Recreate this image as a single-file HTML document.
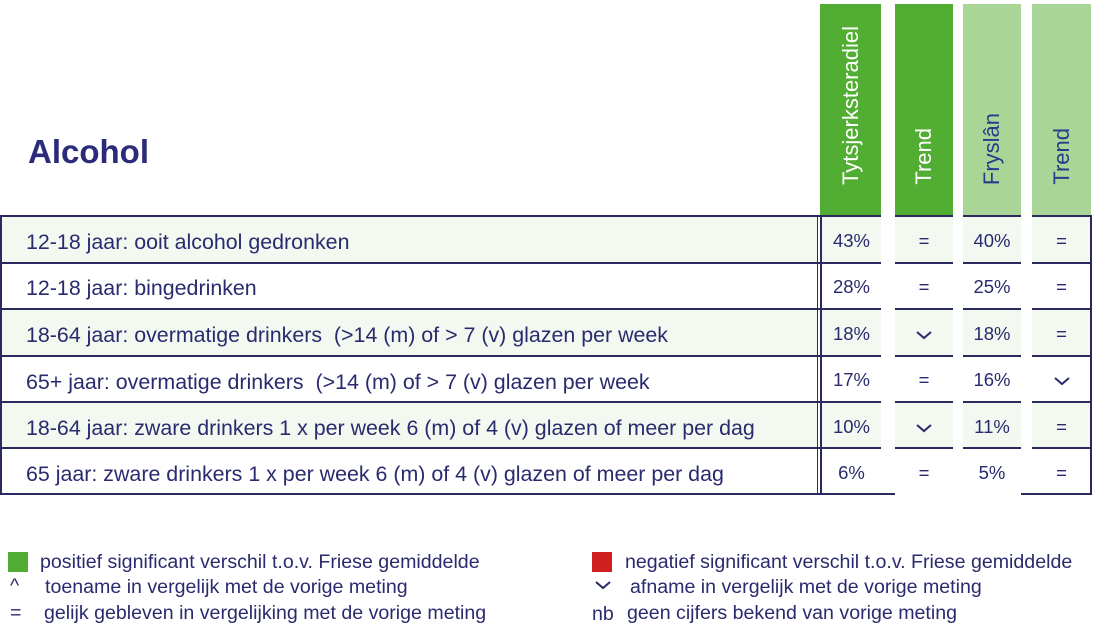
<!DOCTYPE html>
<html><head><meta charset="utf-8"><style>
body{margin:0;width:1095px;height:628px;background:#fff;position:relative;overflow:hidden;font-family:"Liberation Sans",sans-serif;color:#2a2a6e}
.a{position:absolute}
.bar{position:absolute;top:4px;height:211px}
.vt{position:absolute;left:0;right:0;bottom:30px;display:flex;justify-content:center}
.vt span{writing-mode:vertical-rl;transform:rotate(180deg);white-space:nowrap;font-size:22px;line-height:24px}
.row{position:absolute;left:1px;width:817px;height:46px;font-size:21.4px;line-height:52px;box-sizing:border-box;padding-left:25px}
.c{position:absolute;height:46px;font-size:18.5px;line-height:48px;text-align:center}
.h{position:absolute;height:2px;background:#2a2a5e}
.v{position:absolute;width:2px;background:#2a2a5e}
.lg{position:absolute;font-size:19.6px;line-height:22px}
</style></head><body>
<div class="a" style="left:28px;top:133px;font-size:33px;font-weight:bold;color:#2b2b7a">Alcohol</div>

<div class="bar" style="left:820px;width:61px;background:#52ae32"><div class="vt" style="color:#fff"><span>Tytsjerksteradiel</span></div></div>
<div class="bar" style="left:895px;width:58px;background:#52ae32"><div class="vt" style="color:#fff"><span>Trend</span></div></div>
<div class="bar" style="left:963px;width:58px;background:#a9d597"><div class="vt" style="color:#2b3a8a"><span>Fryslân</span></div></div>
<div class="bar" style="left:1032px;width:59px;background:#a9d597"><div class="vt" style="color:#2b3a8a"><span>Trend</span></div></div>

<div class="row" style="top:216px;background:#f3f8f0">12-18 jaar: ooit alcohol gedronken</div>
<div class="row" style="top:262px">12-18 jaar: bingedrinken</div>
<div class="row" style="top:309px;background:#f3f8f0">18-64 jaar: overmatige drinkers &nbsp;(&gt;14 (m) of &gt; 7 (v) glazen per week</div>
<div class="row" style="top:356px">65+ jaar: overmatige drinkers &nbsp;(&gt;14 (m) of &gt; 7 (v) glazen per week</div>
<div class="row" style="top:402px;background:#f3f8f0">18-64 jaar: zware drinkers 1 x per week 6 (m) of 4 (v) glazen of meer per dag</div>
<div class="row" style="top:448px">65 jaar: zware drinkers 1 x per week 6 (m) of 4 (v) glazen of meer per dag</div>

<div class="a" style="left:820px;top:216px;width:61px;height:46px;background:#f3f8f0"></div>
<div class="a" style="left:895px;top:216px;width:58px;height:46px;background:#f3f8f0"></div>
<div class="a" style="left:963px;top:216px;width:58px;height:46px;background:#f3f8f0"></div>
<div class="a" style="left:1032px;top:216px;width:59px;height:46px;background:#f3f8f0"></div>
<div class="a" style="left:820px;top:309px;width:61px;height:46px;background:#f3f8f0"></div>
<div class="a" style="left:895px;top:309px;width:58px;height:46px;background:#f3f8f0"></div>
<div class="a" style="left:963px;top:309px;width:58px;height:46px;background:#f3f8f0"></div>
<div class="a" style="left:1032px;top:309px;width:59px;height:46px;background:#f3f8f0"></div>
<div class="a" style="left:820px;top:402px;width:61px;height:46px;background:#f3f8f0"></div>
<div class="a" style="left:895px;top:402px;width:58px;height:46px;background:#f3f8f0"></div>
<div class="a" style="left:963px;top:402px;width:58px;height:46px;background:#f3f8f0"></div>
<div class="a" style="left:1032px;top:402px;width:59px;height:46px;background:#f3f8f0"></div>

<div class="h" style="left:1px;top:215px;width:880px"></div>
<div class="h" style="left:895px;top:215px;width:58px"></div>
<div class="h" style="left:963px;top:215px;width:58px"></div>
<div class="h" style="left:1032px;top:215px;width:59px"></div>
<div class="h" style="left:1px;top:262px;width:880px"></div>
<div class="h" style="left:895px;top:262px;width:58px"></div>
<div class="h" style="left:963px;top:262px;width:58px"></div>
<div class="h" style="left:1032px;top:262px;width:59px"></div>
<div class="h" style="left:1px;top:308px;width:880px"></div>
<div class="h" style="left:895px;top:308px;width:58px"></div>
<div class="h" style="left:963px;top:308px;width:58px"></div>
<div class="h" style="left:1032px;top:308px;width:59px"></div>
<div class="h" style="left:1px;top:355px;width:880px"></div>
<div class="h" style="left:895px;top:355px;width:58px"></div>
<div class="h" style="left:963px;top:355px;width:58px"></div>
<div class="h" style="left:1032px;top:355px;width:59px"></div>
<div class="h" style="left:1px;top:401px;width:880px"></div>
<div class="h" style="left:895px;top:401px;width:58px"></div>
<div class="h" style="left:963px;top:401px;width:58px"></div>
<div class="h" style="left:1032px;top:401px;width:59px"></div>
<div class="h" style="left:1px;top:447px;width:880px"></div>
<div class="h" style="left:895px;top:447px;width:58px"></div>
<div class="h" style="left:963px;top:447px;width:58px"></div>
<div class="h" style="left:1032px;top:447px;width:59px"></div>
<div class="h" style="left:1px;top:493px;width:894px"></div>
<div class="h" style="left:1021px;top:493px;width:70px"></div>
<div class="v" style="left:0;top:215px;height:280px"></div>
<div class="v" style="left:817px;top:215px;height:280px;width:1px"></div>
<div class="v" style="left:820px;top:215px;height:280px"></div>
<div class="v" style="left:1090px;top:215px;height:280px"></div>

<div class="c" style="left:820px;width:63px;top:217px">43%</div><div class="c" style="left:895px;width:58px;top:217px">=</div><div class="c" style="left:963px;width:58px;top:217px">40%</div><div class="c" style="left:1032px;width:59px;top:217px">=</div>
<div class="c" style="left:820px;width:63px;top:263px">28%</div><div class="c" style="left:895px;width:58px;top:263px">=</div><div class="c" style="left:963px;width:58px;top:263px">25%</div><div class="c" style="left:1032px;width:59px;top:263px">=</div>
<div class="c" style="left:820px;width:63px;top:310px">18%</div><div class="c" style="left:895px;width:58px;top:310px"><svg width="18" height="10" viewBox="0 0 18 10"><polyline points="2,2 9,8 16,2" fill="none" stroke="#2a2a6e" stroke-width="2"/></svg></div><div class="c" style="left:963px;width:58px;top:310px">18%</div><div class="c" style="left:1032px;width:59px;top:310px">=</div>
<div class="c" style="left:820px;width:63px;top:356px">17%</div><div class="c" style="left:895px;width:58px;top:356px">=</div><div class="c" style="left:963px;width:58px;top:356px">16%</div><div class="c" style="left:1032px;width:59px;top:356px"><svg width="18" height="10" viewBox="0 0 18 10"><polyline points="2,2 9,8 16,2" fill="none" stroke="#2a2a6e" stroke-width="2"/></svg></div>
<div class="c" style="left:820px;width:63px;top:403px">10%</div><div class="c" style="left:895px;width:58px;top:403px"><svg width="18" height="10" viewBox="0 0 18 10"><polyline points="2,2 9,8 16,2" fill="none" stroke="#2a2a6e" stroke-width="2"/></svg></div><div class="c" style="left:963px;width:58px;top:403px">11%</div><div class="c" style="left:1032px;width:59px;top:403px">=</div>
<div class="c" style="left:820px;width:63px;top:449px">6%</div><div class="c" style="left:895px;width:58px;top:449px">=</div><div class="c" style="left:963px;width:58px;top:449px">5%</div><div class="c" style="left:1032px;width:59px;top:449px">=</div>

<div class="a" style="left:8px;top:552px;width:20px;height:20px;background:#52ae32"></div>
<div class="lg" style="left:40px;top:551px">positief significant verschil t.o.v. Friese gemiddelde</div>
<div class="lg" style="left:10px;top:575px">^</div>
<div class="lg" style="left:45px;top:576px">toename in vergelijk met de vorige meting</div>
<div class="lg" style="left:10px;top:602px">=</div>
<div class="lg" style="left:44px;top:602px">gelijk gebleven in vergelijking met de vorige meting</div>
<div class="a" style="left:592px;top:552px;width:20px;height:20px;background:#d01f1f"></div>
<div class="lg" style="left:625px;top:551px">negatief significant verschil t.o.v. Friese gemiddelde</div>
<div class="a" style="left:594px;top:577px"><svg width="18" height="10" viewBox="0 0 18 10"><polyline points="2,2 9,8 16,2" fill="none" stroke="#2a2a6e" stroke-width="2"/></svg></div>
<div class="lg" style="left:630px;top:576px">afname in vergelijk met de vorige meting</div>
<div class="lg" style="left:592px;top:603px">nb</div>
<div class="lg" style="left:627px;top:602px">geen cijfers bekend van vorige meting</div>
</body></html>
